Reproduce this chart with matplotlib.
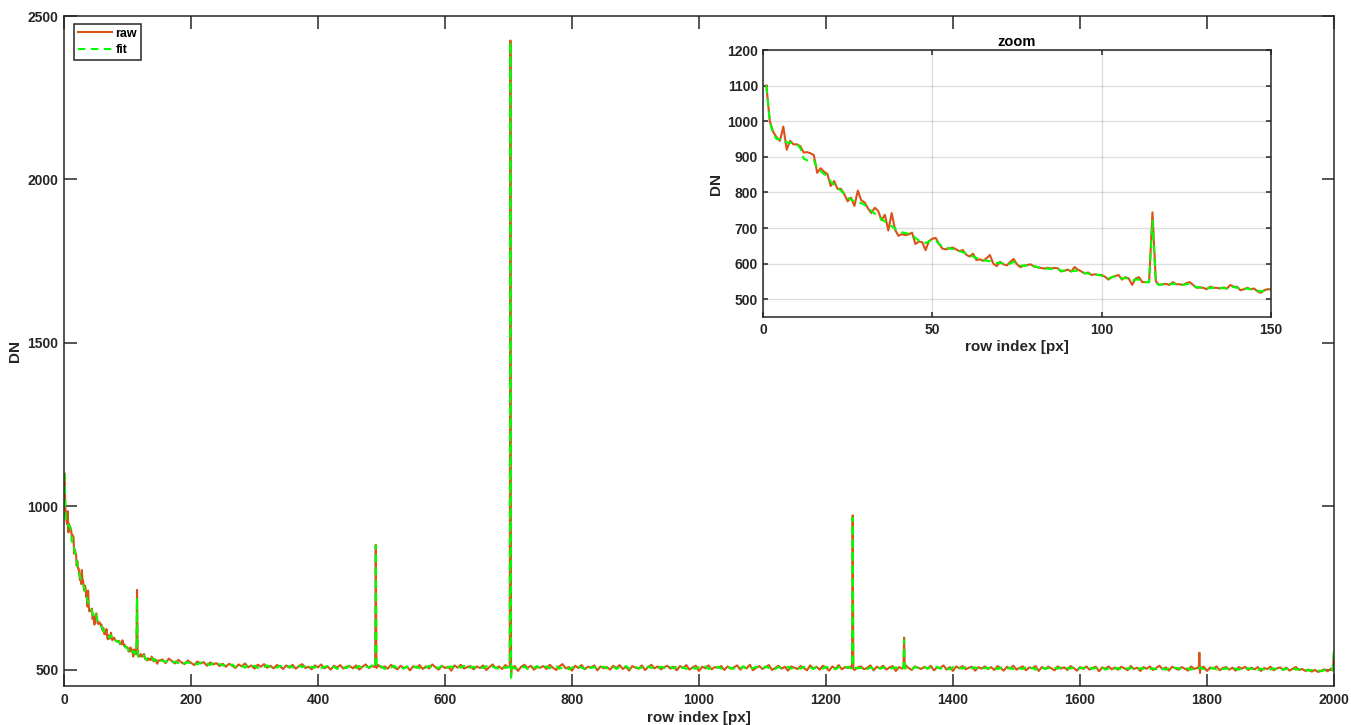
import numpy as np
import matplotlib
matplotlib.use("Agg")
import matplotlib.pyplot as plt

plt.rcParams['font.family'] = ['Liberation Sans', 'DejaVu Sans']
plt.rcParams['font.weight'] = 'bold'
plt.rcParams['axes.labelweight'] = 'bold'
plt.rcParams['axes.titleweight'] = 'bold'

# first 150 rows, row index starts at 1
raw_head = [
    1100, 1000, 970, 955, 945, 985, 920, 945, 935, 935,
    930, 912, 913, 910, 905, 855, 868, 858, 852, 818,
    832, 810, 810, 795, 775, 785, 762, 805, 778, 772,
    755, 742, 757, 748, 722, 737, 693, 742, 695, 678,
    683, 680, 682, 687, 655, 662, 660, 638, 663, 670,
    672, 655, 642, 640, 643, 645, 640, 635, 638, 625,
    620, 628, 610, 612, 608, 615, 624, 600, 593, 605,
    598, 595, 605, 613, 598, 590, 594, 596, 598, 592,
    590, 588, 586, 588, 586, 588, 587, 578, 580, 583,
    578, 590, 583, 578, 572, 575, 568, 570, 568, 568,
    563, 555, 562, 565, 568, 555, 562, 558, 540, 558,
    562, 548, 548, 548, 744, 550, 540, 542, 543, 540,
    548, 542, 542, 540, 545, 548, 540, 532, 533, 532,
    528, 535, 532, 532, 530, 533, 530, 540, 535, 535,
    525, 528, 532, 528, 530, 522, 518, 525, 528, 528,
]
fit_head = [
    1100, 1000, 965, 950, 950, 950, 940, 940, 938, 935,
    925, 895, 890, 890, 890, 868, 860, 852, 845, 830,
    822, 812, 805, 795, 785, 780, 775, 772, 770, 765,
    755, 748, 740, 732, 725, 718, 712, 705, 698, 692,
    688, 686, 684, 680, 672, 665, 660, 658, 662, 668,
    665, 655, 648, 645, 643, 641, 638, 635, 632, 628,
    624, 620, 616, 613, 610, 608, 607, 605, 602, 602,
    600, 598, 600, 605, 600, 595, 594, 595, 597, 593,
    590, 588, 587, 586, 585, 585, 585, 580, 580, 580,
    578, 580, 580, 576, 574, 572, 570, 569, 568, 566,
    560, 558, 562, 564, 562, 558, 560, 556, 552, 555,
    555, 550, 548, 548, 720, 545, 540, 542, 542, 541,
    544, 542, 541, 540, 542, 543, 538, 534, 533, 532,
    530, 532, 532, 531, 532, 531, 530, 536, 534, 532,
    528, 528, 530, 528, 528, 524, 522, 524, 527, 527,
]

# rows 155..2000, every 5th row (estimated from the full view)
tail_start, tail_step = 155, 5
raw_tail = [
    531, 520, 534, 526, 519, 530, 522, 517, 528, 521, 514, 525, 519, 523, 512, 522, 516, 520, 511, 518,
    509, 518, 512, 505, 516, 510, 519, 507, 513, 503, 515, 509, 517, 506, 512, 504, 514, 510, 502, 513,
    506, 515, 503, 511, 517, 505, 509, 501, 513, 507, 516, 504, 510, 500, 512, 506, 514, 503, 509, 511,
    504, 513, 500, 509, 516, 505, 511, 502, 514, 506, 510, 503, 515, 507, 501, 512, 505, 509, 498, 511,
    506, 514, 502, 510, 504, 516, 507, 500, 512, 505, 509, 497, 513, 506, 515, 503, 508, 511, 501, 510,
    505, 513, 499, 508, 516, 504, 510, 502, 514, 507, 503, 511, 496, 509, 515, 505, 512, 500, 508, 506,
    511, 502, 515, 506, 499, 510, 517, 504, 508, 497, 512, 505, 514, 501, 509, 506, 513, 498, 510, 504,
    508, 500, 512, 505, 514, 502, 509, 497, 511, 506, 503, 513, 499, 508, 515, 504, 510, 501, 507, 512,
    503, 509, 498, 511, 505, 514, 500, 507, 512, 496, 509, 504, 513, 501, 508, 506, 511, 499, 510, 503,
    507, 513, 500, 509, 504, 515, 498, 506, 511, 502, 508, 514, 499, 505, 512, 503, 509, 497, 510, 506,
    502, 511, 505, 498, 513, 504, 509, 500, 512, 506, 497, 510, 503, 514, 501, 508, 505, 511, 499, 507,
    510, 501, 506, 513, 498, 509, 504, 512, 500, 507, 511, 496, 508, 503, 514, 505, 499, 510, 506, 502,
    509, 503, 512, 498, 507, 505, 513, 500, 508, 496, 510, 504, 511, 501, 506, 509, 497, 508, 503, 510,
    502, 508, 499, 511, 505, 497, 509, 503, 512, 500, 506, 510, 498, 507, 504, 511, 496, 508, 502, 509,
    504, 498, 510, 503, 507, 499, 511, 505, 497, 508, 502, 510, 500, 506, 509, 495, 507, 503, 510, 501,
    507, 500, 509, 504, 498, 511, 502, 506, 496, 508, 503, 510, 499, 505, 512, 501, 507, 497, 509, 504,
    500, 508, 503, 497, 510, 502, 506, 499, 509, 496, 507, 503, 510, 498, 505, 508, 500, 506, 497, 508,
    503, 509, 499, 506, 501, 508, 496, 505, 502, 509, 498, 504, 507, 500, 506, 497, 503, 508, 499, 502,
    496, 500, 494, 499, 493, 497, 501, 495, 503, 548,
]
fit_tail = [
    527, 524, 529, 522, 525, 520, 526, 519, 523, 518, 521, 516, 522, 517, 519, 514, 520, 515, 517, 513,
    514, 510, 516, 508, 513, 511, 506, 515, 509, 512, 505, 511, 508, 513, 507, 510, 506, 512, 508, 505,
    511, 507, 504, 512, 508, 510, 503, 509, 506, 513, 505, 508, 511, 504, 509, 502, 510, 507, 505, 512,
    508, 505, 511, 503, 509, 507, 513, 504, 508, 510, 502, 509, 506, 512, 504, 508, 503, 510, 505, 507,
    509, 504, 510, 506, 512, 503, 508, 505, 511, 502, 507, 510, 504, 509, 506, 512, 502, 507, 509, 504,
    508, 505, 511, 503, 509, 506, 502, 510, 505, 508, 511, 503, 507, 504, 510, 502, 508, 506, 511, 503,
    507, 510, 504, 508, 512, 503, 506, 509, 501, 507, 504, 510, 506, 503, 511, 505, 508, 502, 507, 509,
    504, 507, 510, 502, 508, 505, 511, 503, 506, 509, 504, 507, 501, 510, 505, 508, 503, 509, 506, 502,
    508, 504, 510, 503, 507, 502, 509, 505, 503, 508, 506, 510, 502, 507, 504, 509, 503, 506, 508, 505,
    503, 508, 505, 510, 502, 507, 504, 509, 506, 503, 510, 505, 507, 502, 508, 504, 506, 509, 503, 507,
    506, 503, 509, 504, 507, 502, 508, 505, 503, 509, 505, 507, 501, 508, 504, 506, 509, 503, 507, 504,
    505, 508, 502, 507, 504, 509, 503, 506, 508, 502, 505, 507, 503, 509, 504, 506, 502, 508, 505, 503,
    507, 504, 506, 502, 509, 503, 507, 505, 501, 508, 504, 506, 503, 508, 502, 505, 507, 503, 506, 504,
    506, 503, 507, 502, 505, 508, 503, 506, 501, 507, 504, 502, 508, 503, 506, 500, 505, 507, 502, 505,
    502, 506, 503, 507, 501, 505, 503, 508, 502, 504, 506, 501, 507, 503, 505, 502, 506, 500, 504, 507,
    503, 505, 501, 507, 503, 504, 506, 500, 505, 503, 507, 502, 504, 501, 506, 503, 500, 505, 502, 506,
    504, 501, 506, 503, 500, 505, 502, 507, 501, 504, 503, 506, 500, 505, 502, 504, 501, 506, 503, 500,
    505, 501, 504, 502, 506, 499, 503, 501, 505, 500, 504, 502, 506, 499, 503, 501, 505, 500, 502, 499,
    500, 497, 499, 496, 498, 495, 499, 497, 500, 566,
]

# isolated spikes: row -> DN
raw_spikes = {490: 508, 491: 882, 492: 505,
              702: 510, 703: 2425, 704: 480, 706: 506,
              1241: 508, 1242: 972, 1243: 503,
              1322: 506, 1323: 598, 1324: 504,
              1787: 504, 1788: 552, 1789: 490, 1790: 506,
              1998: 497}
fit_spikes = {490: 506, 491: 880, 492: 507,
              702: 508, 703: 2420, 704: 475, 706: 507,
              1241: 506, 1242: 965, 1243: 505,
              1322: 505, 1323: 590, 1324: 506,
              1998: 499}


def build(head, tail, spikes):
    d = dict(zip(range(1, len(head) + 1), head))
    d.update(zip(range(tail_start, tail_start + tail_step * len(tail), tail_step), tail))
    d.update(spikes)
    xs = sorted(d)
    return np.array(xs), np.array([d[k] for k in xs])


x_raw, y_raw = build(raw_head, raw_tail, raw_spikes)
x_fit, y_fit = build(fit_head, fit_tail, fit_spikes)

c_raw = '#D95319'
c_fit = '#00FF00'
axc = '#262626'
dash = (0, (3.6, 2.6))

fig = plt.figure(figsize=(13.51, 7.25), dpi=100)
ax = fig.add_axes([64 / 1351, 1 - 686 / 725, 1270 / 1351, 670 / 725])
ax.plot(x_raw, y_raw, color=c_raw, lw=1.5, label='raw')
ax.plot(x_fit, y_fit, color=c_fit, lw=1.5, ls=dash, label='fit')
ax.set_xlim(0, 2000)
ax.set_ylim(450, 2500)
ax.set_xticks(np.arange(0, 2001, 200))
ax.set_yticks(np.arange(500, 2501, 500))
ax.tick_params(direction='in', length=9, width=1.1, colors=axc, labelsize=10,
               top=True, right=True)
ax.tick_params(axis='x', pad=5)
ax.tick_params(axis='y', pad=4)
for s in ax.spines.values():
    s.set_color(axc)
    s.set_linewidth(1.1)
ax.set_xlabel('row index [px]', fontsize=11, labelpad=3, color=axc)
ax.set_ylabel('DN', fontsize=11, labelpad=4, color=axc)
leg = ax.legend(loc='upper left', bbox_to_anchor=(74 / 1351, 1 - 24 / 725),
                bbox_transform=fig.transFigure, borderaxespad=0, fontsize=9,
                handlelength=2.7, handletextpad=0.3, borderpad=0.3,
                labelspacing=0.35, fancybox=False, framealpha=1)
leg.get_frame().set_edgecolor(axc)
leg.get_frame().set_linewidth(1.1)

# inset with the first 150 rows
ins = fig.add_axes([763 / 1351, 1 - 317 / 725, 508 / 1351, 267 / 725])
ins.plot(x_raw, y_raw, color=c_raw, lw=1.5)
ins.plot(x_fit, y_fit, color=c_fit, lw=1.5, ls=dash)
ins.set_xlim(0, 150)
ins.set_ylim(450, 1200)
ins.set_xticks([0, 50, 100, 150])
ins.set_yticks(np.arange(500, 1201, 100))
ins.grid(True, color=axc, alpha=0.15, lw=1.0)
ins.tick_params(direction='in', length=3.6, width=1.1, colors=axc, labelsize=10,
                top=True, right=True)
ins.tick_params(axis='x', pad=4.5)
ins.tick_params(axis='y', pad=3.6)
for s in ins.spines.values():
    s.set_color(axc)
    s.set_linewidth(1.1)
ins.set_title('zoom', fontsize=10.5, pad=3, color='black')
ins.set_xlabel('row index [px]', fontsize=11, labelpad=2, color=axc)
ins.set_ylabel('DN', fontsize=11, labelpad=3, color=axc)

fig.savefig('out.png', dpi=100)
